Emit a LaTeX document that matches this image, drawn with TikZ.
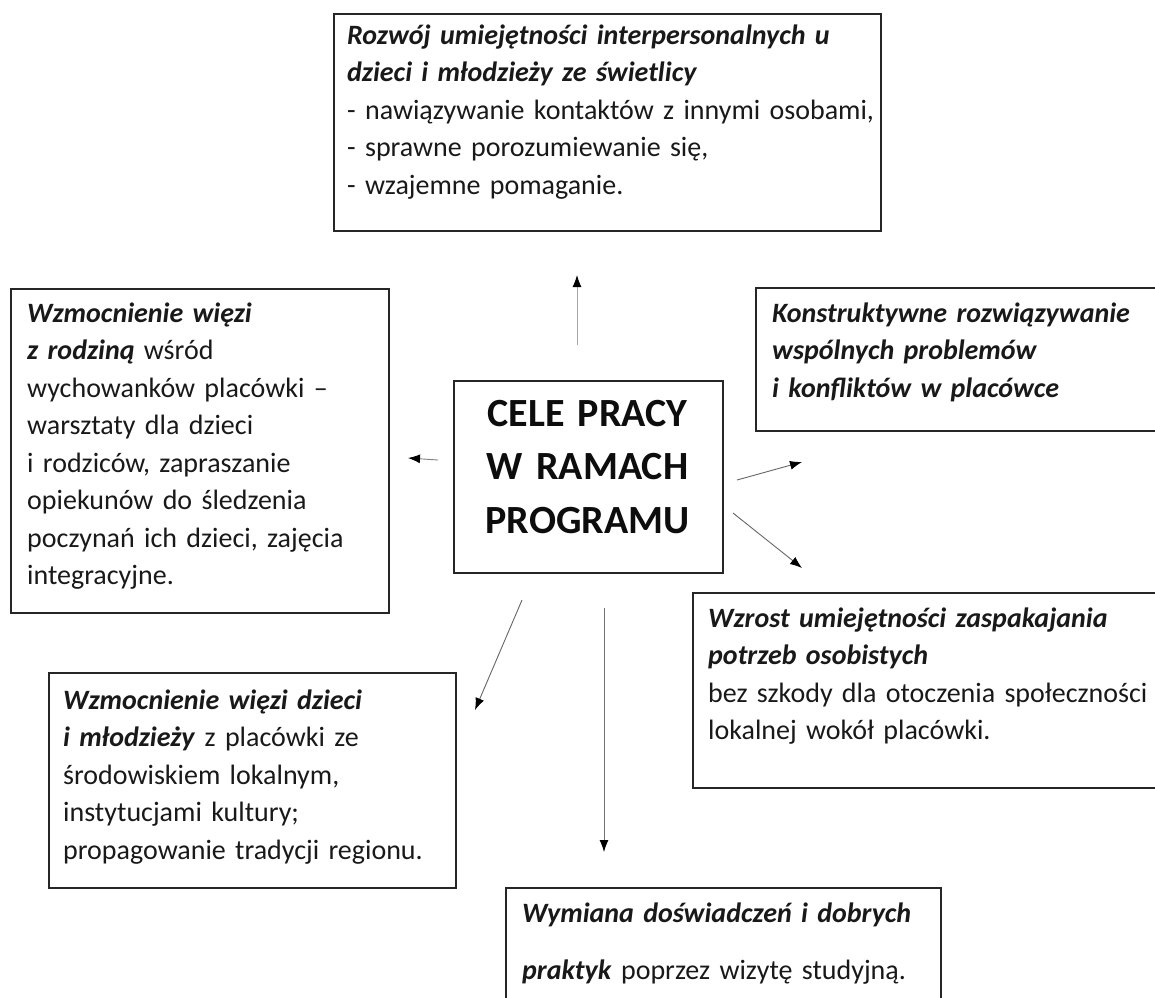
\documentclass[tikz,border=0pt]{standalone}
\usepackage{fontspec}
\setmainfont{Carlito}
\usetikzlibrary{arrows.meta}
\newcommand{\bi}[1]{\textbf{\textit{#1}}}
\begin{document}
\begin{tikzpicture}[x=1pt,y=-1pt,
  box/.style={draw=black!85, line width=1.5pt, anchor=north west, inner sep=0pt, rectangle},
  txt/.style={anchor=north west, inner sep=0pt, text width=#1, align=left,
    font=\fontsize{28}{37.5}\selectfont, text=black!90},
  arr/.style={line width=0.9pt, draw=black!60, -{Latex[length=12pt,width=9pt,color=black]}}
]
\useasboundingbox (0,0) rectangle (1155,997);
\clip (0,0) rectangle (1155,997);
\fill[white] (0,0) rectangle (1155,997);

% boxes
\node[box, minimum width=547pt, minimum height=217pt] (top) at (333,13) {};
\node[box, minimum width=378pt, minimum height=324pt] (left) at (10,288) {};
\node[box, minimum width=269pt, minimum height=192pt] (center) at (453,380) {};
\node[box, minimum width=410pt, minimum height=143pt] (rtop) at (755,287) {};
\node[box, minimum width=470pt, minimum height=195pt] (rmid) at (692,592) {};
\node[box, minimum width=407pt, minimum height=215pt] (bleft) at (48,672) {};
\node[box, minimum width=435pt, minimum height=130pt] (bottom) at (505,887) {};

% texts
\node[txt=600pt] (toptxt) at (347,17.75) {\strut\bi{Rozwój umiejętności interpersonalnych u}\\
\bi{dzieci i młodzieży ze świetlicy}\\
- nawiązywanie kontaktów z innymi osobami,\\
- sprawne porozumiewanie się,\\
- wzajemne pomaganie.};

\node[txt=600pt] (lefttxt) at (27,295.75) {\strut\bi{Wzmocnienie więzi}\\
\bi{z rodziną} wśród\\
wychowanków placówki –\\
warsztaty dla dzieci\\
i rodziców, zapraszanie\\
opiekunów do śledzenia\\
poczynań ich dzieci, zajęcia\\
integracyjne.};

\node[anchor=north, inner sep=0pt, text width=269pt, align=center,
  font=\bfseries\fontsize{40}{53.5}\selectfont, text=black!95] (centertxt) at (587.5,388.5)
  {\strut CELE PRACY\\ W RAMACH\\ PROGRAMU};

\node[txt=600pt] (rtoptxt) at (772,295.75) {\strut\bi{Konstruktywne rozwiązywanie}\\
\bi{wspólnych problemów}\\
\bi{i konfliktów w placówce}};

\node[txt=600pt] (rmidtxt) at (708,600.75) {\strut\bi{Wzrost umiejętności zaspakajania}\\
\bi{potrzeb osobistych}\\
bez szkody dla otoczenia społeczności\\
lokalnej wokół placówki.};

\node[txt=600pt] (blefttxt) at (63,682.75) {\strut\bi{Wzmocnienie więzi dzieci}\\
\bi{i młodzieży} z placówki ze\\
środowiskiem lokalnym,\\
instytucjami kultury;\\
propagowanie tradycji regionu.};

\node[txt=401pt, font=\fontsize{28}{57}\selectfont] (bottomtxt) at (522,882.1)
  {\strut\makebox[401pt][s]{\bi{Wymiana doświadczeń i dobrych}}\\
  \bi{praktyk} poprzez wizytę studyjną.};

% arrow end points
\coordinate (upS) at (577,345);   \coordinate (upE) at (577,275);
\coordinate (lS) at (438,460);    \coordinate (lE) at (408,458);
\coordinate (ruS) at (737,480);   \coordinate (ruE) at (802,462);
\coordinate (rdS) at (733,513);   \coordinate (rdE) at (802,568);
\coordinate (dlS) at (522,600);   \coordinate (dlE) at (475,710);
\coordinate (dS) at (604,608);    \coordinate (dE) at (604,852);

\draw[arr, draw=black!35] (upS) -- (upE);
\draw[arr, draw=black!50] (lS) -- (lE);
\draw[arr] (ruS) -- (ruE);
\draw[arr] (rdS) -- (rdE);
\draw[arr] (dlS) -- (dlE);
\draw[arr, draw=black!55] (dS) -- (dE);
\end{tikzpicture}
\end{document}
